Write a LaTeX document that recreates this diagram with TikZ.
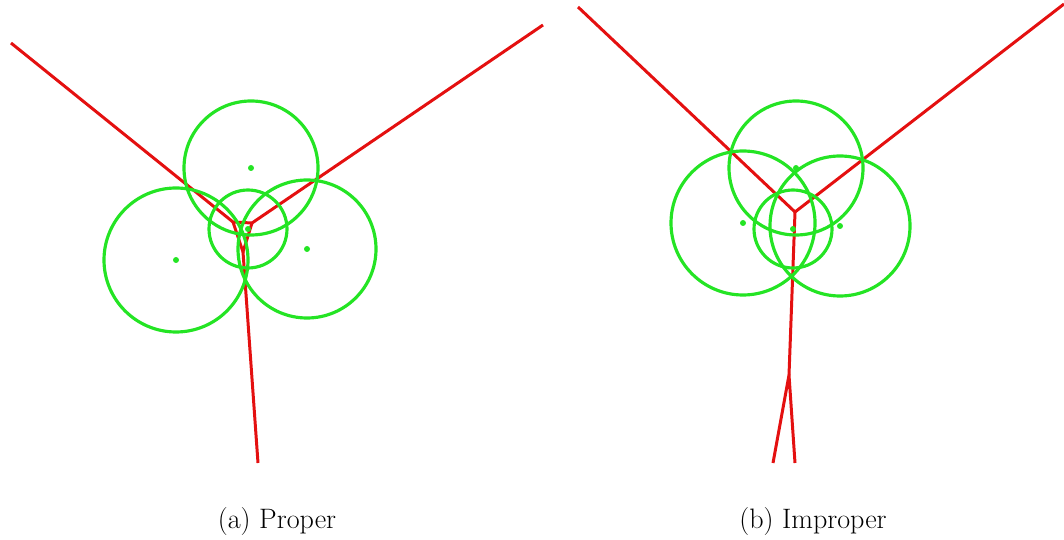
\documentclass[tikz,border=0pt]{standalone}
\usepackage{tikz}

\definecolor{edgered}{RGB}{228,16,16}
\definecolor{circgreen}{RGB}{36,228,36}

\begin{document}
\begin{tikzpicture}[x=0.02cm, y=-0.02cm,
  edge/.style={draw=edgered, line width=1.7pt, line join=round},
  circ/.style={draw=circgreen, line width=1.8pt},
  site/.style={fill=circgreen},
  capt/.style={font=\fontsize{16}{19}\selectfont}]

  \useasboundingbox (0,0) rectangle (1064,540);

  % (a) proper: vertices and far ends
  \coordinate (aL) at (11,43);
  \coordinate (aR) at (543,25);
  \coordinate (aB) at (258,463);
  \coordinate (a1) at (233,222);
  \coordinate (a2) at (252,223);
  \coordinate (a3) at (243,252);

  \draw[edge] (aL) -- (a1) -- (a2) -- (aR);
  \draw[edge] (a1) -- (a3) -- (a2);
  \draw[edge] (a3) -- (aB);

  % (a) circles
  \coordinate (aTop) at (251,168);
  \coordinate (aLeft) at (176,260);
  \coordinate (aRight) at (307,249);
  \coordinate (aMid) at (248,229);
  \draw[circ] (aTop) circle (67);
  \draw[circ] (aLeft) circle (72);
  \draw[circ] (aRight) circle (69);
  \draw[circ] (aMid) circle (39);
  \foreach \c in {aTop,aLeft,aRight,aMid}
    \fill[site] (\c) circle (3);

  % (b) improper: vertices and far ends
  \coordinate (bL) at (578,7);
  \coordinate (bR) at (1064,4);
  \coordinate (b1) at (795,212);
  \coordinate (b2) at (789,375);
  \coordinate (bB1) at (773,463);
  \coordinate (bB2) at (795,463);

  \draw[edge] (bL) -- (b1) -- (bR);
  \draw[edge] (b1) -- (b2);
  \draw[edge] (bB1) -- (b2) -- (bB2);

  % (b) circles
  \coordinate (bTop) at (796,168);
  \coordinate (bLeft) at (743,223);
  \coordinate (bRight) at (840,226);
  \coordinate (bMid) at (793,229);
  \draw[circ] (bTop) circle (67);
  \draw[circ] (bLeft) circle (72);
  \draw[circ] (bRight) circle (70);
  \draw[circ] (bMid) circle (39);
  \foreach \c in {bTop,bLeft,bRight,bMid}
    \fill[site] (\c) circle (3);

  % captions
  \node[capt] (captA) at (277,521) {(a) Proper};
  \node[capt] (captB) at (813,521) {(b) Improper};
\end{tikzpicture}
\end{document}
